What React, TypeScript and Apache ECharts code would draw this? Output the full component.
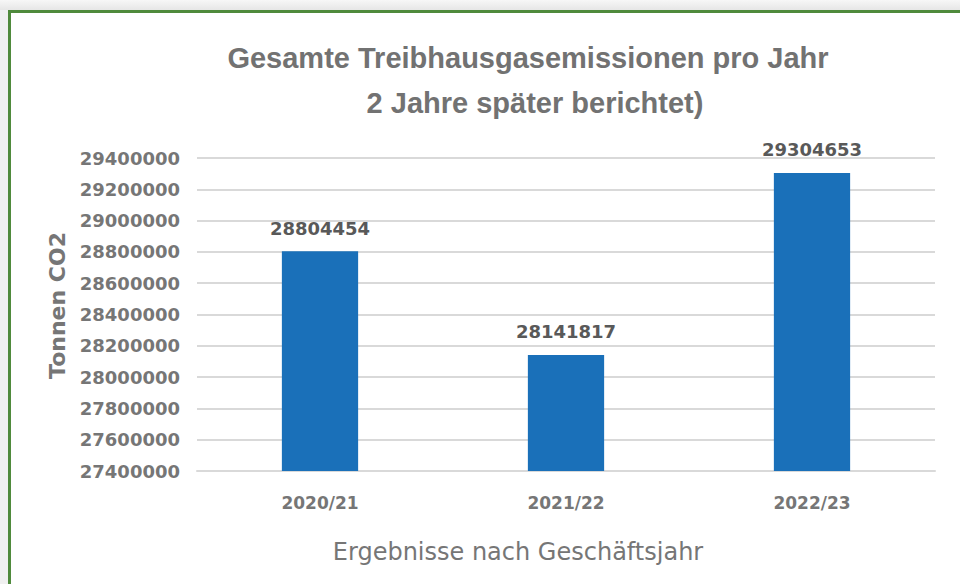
import React, { useEffect, useRef } from "react";
import * as echarts from "echarts";

const categories = ["2020/21", "2021/22", "2022/23"];
const emissions = [28804454, 28141817, 29304653];
const yMin = 27400000;
const yMax = 29400000;
const yStep = 200000;
const titleLines = ["Gesamte Treibhausgasemissionen pro Jahr", "2 Jahre später berichtet)"];
const xAxisName = "Ergebnisse nach Geschäftsjahr";
const yAxisName = "Tonnen CO2";

export default function App() {
  const ref = useRef<HTMLDivElement>(null);
  useEffect(() => {
    if (!ref.current) return;
    const chart = echarts.init(ref.current, null, { renderer: "svg" });
    const grey = "#767676";
    chart.setOption({
      animation: false,
      backgroundColor: "#ffffff",
      graphic: [
        {
          type: "rect",
          shape: { x: 0, y: 0, width: 960, height: 10 },
          style: {
            fill: new echarts.graphic.LinearGradient(0, 0, 0, 1, [
              { offset: 0, color: "#f7f7f7" },
              { offset: 1, color: "#e6e6e6" },
            ]),
          },
          silent: true,
        },
        {
          type: "rect",
          shape: { x: 0, y: 10, width: 8, height: 574 },
          style: { fill: "#f0f0f0" },
          silent: true,
        },
        {
          type: "rect",
          shape: { x: 8, y: 10, width: 952, height: 3 },
          style: { fill: "#4f8a3c" },
          silent: true,
        },
        {
          type: "rect",
          shape: { x: 8, y: 10, width: 3, height: 574 },
          style: { fill: "#4f8a3c" },
          silent: true,
        },
        {
          type: "text",
          x: 528,
          y: 58,
          style: {
            text: titleLines[0],
            font: "bold 29px 'Liberation Sans'",
            fill: "#727272",
            align: "center",
            verticalAlign: "middle",
          },
        },
        {
          type: "text",
          x: 535,
          y: 103,
          style: {
            text: titleLines[1],
            font: "bold 29px 'Liberation Sans'",
            fill: "#727272",
            align: "center",
            verticalAlign: "middle",
          },
        },
      ],
      grid: { left: 197, right: 25, top: 158, bottom: 113 },
      xAxis: {
        type: "category",
        data: categories,
        axisLine: { lineStyle: { color: "#d9d9d9", width: 2 } },
        axisTick: { show: false },
        axisLabel: {
          color: grey,
          fontFamily: "DejaVu Sans",
          fontWeight: "bold",
          fontSize: 17,
          margin: 23,
        },
        name: xAxisName,
        nameLocation: "middle",
        nameGap: 69,
        nameTextStyle: {
          color: grey,
          fontFamily: "DejaVu Sans",
          fontSize: 24,
          padding: [0, 96, 0, 0],
        },
      },
      yAxis: {
        type: "value",
        min: yMin,
        max: yMax,
        interval: yStep,
        axisLine: { show: false },
        axisTick: { show: false },
        splitLine: { lineStyle: { color: "#d9d9d9", width: 2 } },
        axisLabel: {
          color: grey,
          fontFamily: "DejaVu Sans",
          fontWeight: "bold",
          fontSize: 18,
          margin: 17,
          formatter: (v: number) => String(v),
        },
        name: yAxisName,
        nameLocation: "middle",
        nameGap: 122,
        nameRotate: 90,
        nameTextStyle: {
          color: grey,
          fontFamily: "DejaVu Sans",
          fontWeight: "bold",
          fontSize: 22,
          padding: [0, 0, 0, 18],
        },
      },
      series: [
        {
          type: "bar",
          data: emissions,
          barWidth: "31%",
          itemStyle: { color: "#1a70b9" },
          label: {
            show: true,
            position: "top",
            distance: 14,
            color: "#595959",
            fontFamily: "DejaVu Sans",
            fontWeight: "bold",
            fontSize: 18,
          },
        },
      ],
    });
    return () => chart.dispose();
  }, []);
  return (
    <div
      ref={ref}
      style={{ position: "fixed", left: 0, top: 0, width: 960, height: 584 }}
    />
  );
}
